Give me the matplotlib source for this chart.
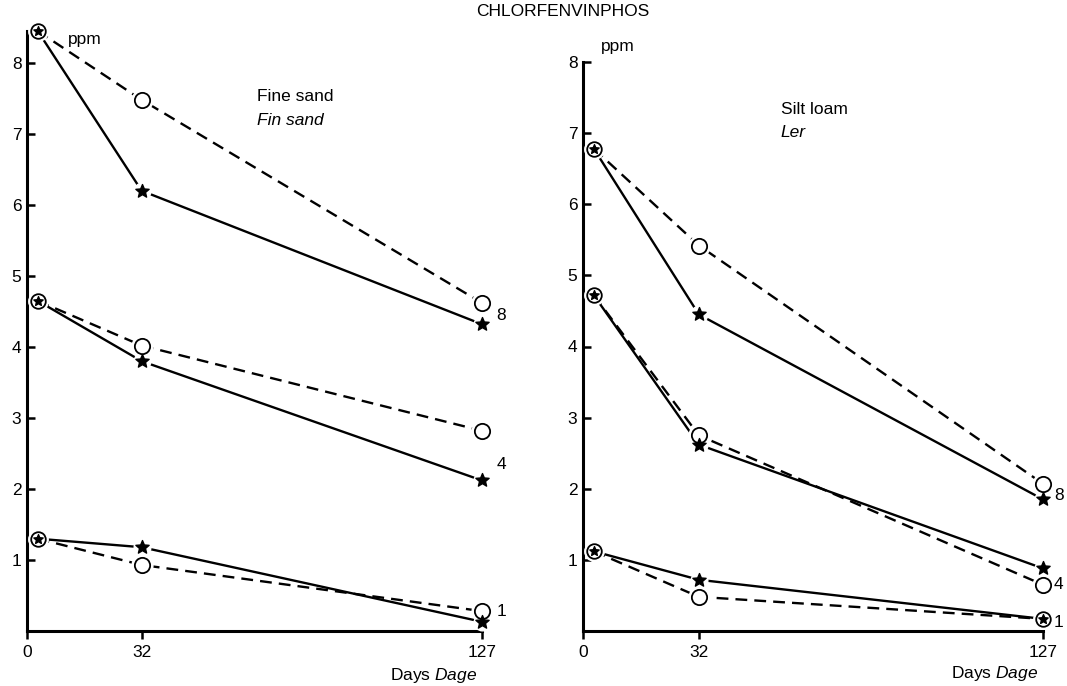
import numpy as np
import matplotlib.pyplot as plt
from matplotlib.path import Path

plt.rcParams['font.family'] = ['Liberation Sans', 'DejaVu Sans']
plt.rcParams['mathtext.fontset'] = 'custom'
plt.rcParams['mathtext.rm'] = 'Liberation Sans'
plt.rcParams['mathtext.it'] = 'Liberation Sans:italic'

days = [3, 32, 127]
x_ticks = [0, 32, 127]

# Fine sand / Fin sand : doses 8, 4, 1
sand_star = {8: [8.45, 6.2, 4.32], 4: [4.65, 3.8, 2.12], 1: [1.3, 1.18, 0.13]}
sand_circ = {8: [8.45, 7.48, 4.62], 4: [4.65, 4.02, 2.82], 1: [1.3, 0.93, 0.28]}

# Silt loam / Ler
loam_star = {8: [6.78, 4.45, 1.85], 4: [4.72, 2.62, 0.88], 1: [1.12, 0.72, 0.17]}
loam_circ = {8: [6.78, 5.42, 2.07], 4: [4.72, 2.75, 0.65], 1: [1.12, 0.48, 0.17]}

star = Path.unit_regular_star(5, 0.45)
FS = 12.5


def draw_panel(ax, s_data, c_data, ymax):
    for dose in [8, 4, 1]:
        s = s_data[dose]
        c = c_data[dose]
        ax.plot(days, s, color='black', lw=1.7, zorder=2, clip_on=False)
        ax.plot(days, c, color='black', lw=1.7, dashes=(5, 3), zorder=2, clip_on=False)
        # white halos so the lines stop short of the symbols
        for i in range(3):
            if i == 0 or abs(s[i] - c[i]) < 0.12:
                ax.plot(days[i], s[i], 'o', ms=14, mfc='white', mec='white', zorder=3, clip_on=False)
                ax.plot(days[i], s[i], 'o', ms=10.5, mfc='white', mec='black', mew=1.3, zorder=4, clip_on=False)
                ax.plot(days[i], s[i], marker=star, ms=7, color='black', zorder=5, clip_on=False)
            else:
                ax.plot(days[i], s[i], 'o', ms=12, mfc='white', mec='white', zorder=3, clip_on=False)
                ax.plot(days[i], s[i], marker=star, ms=10, color='black', zorder=5, clip_on=False)
                ax.plot(days[i], c[i], 'o', ms=15, mfc='white', mec='white', zorder=3, clip_on=False)
                ax.plot(days[i], c[i], 'o', ms=11, mfc='white', mec='black', mew=1.3, zorder=4, clip_on=False)
    ax.set_xlim(0, 127)
    ax.set_ylim(0, ymax)
    ax.spines['top'].set_visible(False)
    ax.spines['right'].set_visible(False)
    ax.spines['left'].set_linewidth(2.2)
    ax.spines['bottom'].set_linewidth(2.2)
    ax.set_xticks(x_ticks)
    ax.set_yticks(range(1, 9))
    ax.tick_params(axis='y', direction='in', length=6, width=1.8, labelsize=FS, pad=4)
    ax.tick_params(axis='x', direction='out', length=6, width=1.8, labelsize=FS, pad=4)


fig = plt.figure(figsize=(10.67, 6.86), dpi=100)
ax1 = fig.add_axes([27 / 1067, 55 / 686, 455 / 1067, 600 / 686])
ax2 = fig.add_axes([583 / 1067, 55 / 686, 460 / 1067, 569 / 686])

draw_panel(ax1, sand_star, sand_circ, 8.45)
draw_panel(ax2, loam_star, loam_circ, 8.0)

# dose labels at the right end of each group
ax1.text(131, 4.45, '8', fontsize=FS, va='center', ha='left', clip_on=False)
ax1.text(131, 2.35, '4', fontsize=FS, va='center', ha='left', clip_on=False)
ax1.text(131, 0.28, '1', fontsize=FS, va='center', ha='left', clip_on=False)
ax2.text(130, 1.9, '8', fontsize=FS, va='center', ha='left', clip_on=False)
ax2.text(130, 0.65, '4', fontsize=FS, va='center', ha='left', clip_on=False)
ax2.text(130, 0.12, '1', fontsize=FS, va='center', ha='left', clip_on=False)

ax1.text(0.09, 8.33, 'ppm', fontsize=FS, va='center', ha='left',
         transform=ax1.get_yaxis_transform())
ax2.text(0.04, 8.22, 'ppm', fontsize=FS, va='center', ha='left',
         transform=ax2.get_yaxis_transform())

ax1.text(0.505, 7.47, 'Fine sand', fontsize=FS, transform=ax1.get_yaxis_transform())
ax1.text(0.505, 7.12, 'Fin sand', fontsize=FS, style='italic', transform=ax1.get_yaxis_transform())
ax2.text(0.43, 7.27, 'Silt loam', fontsize=FS, transform=ax2.get_yaxis_transform())
ax2.text(0.43, 6.95, 'Ler', fontsize=FS, style='italic', transform=ax2.get_yaxis_transform())

for ax in [ax1, ax2]:
    ax.text(0.99, -0.058, r'Days $\it{Dage}$', fontsize=FS, ha='right', va='top',
            transform=ax.transAxes)

fig.text(563 / 1067, 1 - 11 / 686, 'CHLORFENVINPHOS', fontsize=FS, ha='center', va='center')

fig.savefig('out.png', dpi=100)
